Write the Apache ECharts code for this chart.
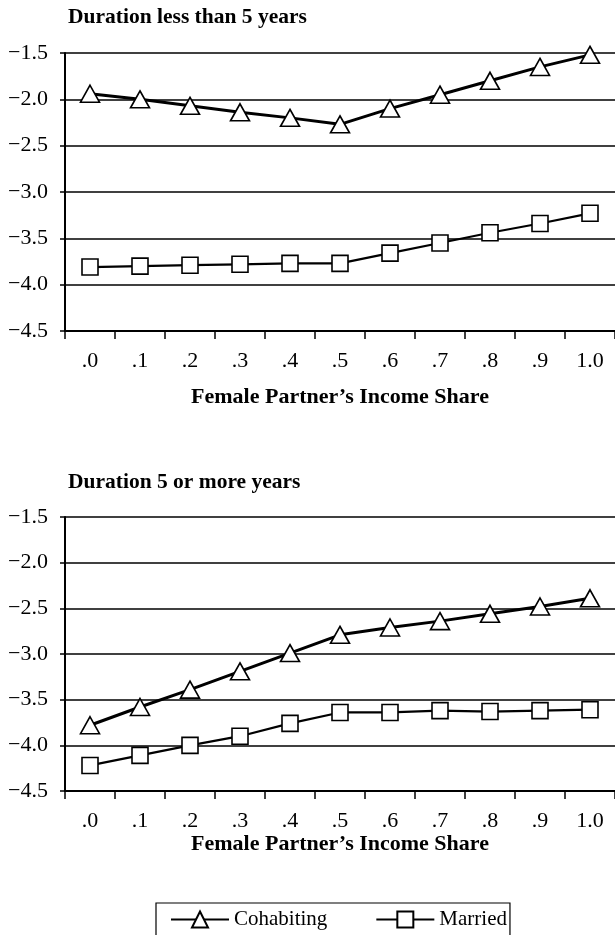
<!DOCTYPE html>
<html>
<head>
<meta charset="utf-8">
<script src="https://cdn.jsdelivr.net/npm/echarts@6/dist/echarts.min.js"></script>
<style>
html, body { margin: 0; padding: 0; background: #fff; }
#chart { width: 615px; height: 935px; }
</style>
</head>
<body>
<div id="chart"></div>
<script>
var shares = ['.0', '.1', '.2', '.3', '.4', '.5', '.6', '.7', '.8', '.9', '1.0'];
var shortCohab = [-1.94, -2.00, -2.07, -2.14, -2.20, -2.27, -2.10, -1.95, -1.80, -1.65, -1.52];
var shortMarried = [-3.81, -3.80, -3.79, -3.78, -3.77, -3.77, -3.66, -3.55, -3.44, -3.34, -3.23];
var longCohab = [-3.78, -3.58, -3.39, -3.19, -2.99, -2.79, -2.71, -2.64, -2.56, -2.48, -2.39];
var longMarried = [-4.22, -4.11, -4.00, -3.90, -3.76, -3.64, -3.64, -3.62, -3.63, -3.62, -3.61];

var font = '"Liberation Serif", "DejaVu Serif", serif';
var myChart = echarts.init(document.getElementById('chart'));

function yAxisFor(idx) {
    return {
        type: 'value',
        gridIndex: idx,
        min: -4.5,
        max: -1.5,
        interval: 0.5,
        axisLine: { show: true, lineStyle: { color: '#000', width: 2 } },
        axisTick: { show: true, length: 5, lineStyle: { color: '#000', width: 1.5 } },
        splitLine: { show: true, lineStyle: { color: '#000', width: 1.5 } },
        axisLabel: {
            color: '#000', fontFamily: font, fontSize: 22, margin: 17,
            formatter: function (v) { return '\u2212' + Math.abs(v).toFixed(1); }
        }
    };
}

function xAxisFor(idx, gap) {
    return {
        type: 'category',
        gridIndex: idx,
        data: shares,
        boundaryGap: true,
        axisLine: { show: true, lineStyle: { color: '#000', width: 2 } },
        axisTick: { show: true, length: 8, interval: 0, lineStyle: { color: '#000', width: 1.5 } },
        axisLabel: { color: '#000', fontFamily: font, fontSize: 22, margin: 19, interval: 0 },
        name: 'Female Partner\u2019s Income Share',
        nameLocation: 'middle',
        nameGap: gap,
        nameTextStyle: { color: '#000', fontFamily: font, fontSize: 22, fontWeight: 'bold' }
    };
}

function cohab(idx, data) {
    return {
        name: 'Cohabiting', type: 'line', xAxisIndex: idx, yAxisIndex: idx,
        data: data, symbol: 'triangle', symbolSize: [19, 17], z: 3,
        lineStyle: { color: '#000', width: 3 },
        itemStyle: { color: '#fff', borderColor: '#000', borderWidth: 1.6 }
    };
}

function married(idx, data) {
    return {
        name: 'Married', type: 'line', xAxisIndex: idx, yAxisIndex: idx,
        data: data, symbol: 'rect', symbolSize: 16, z: 3,
        lineStyle: { color: '#000', width: 2.2 },
        itemStyle: { color: '#fff', borderColor: '#000', borderWidth: 1.6 }
    };
}

var option = {
    backgroundColor: '#fff',
    animation: false,
    title: [
        { text: 'Duration less than 5 years', left: 63, top: 1,
          textStyle: { color: '#000', fontFamily: font, fontSize: 21.5, fontWeight: 'bold' } },
        { text: 'Duration 5 or more years', left: 63, top: 466,
          textStyle: { color: '#000', fontFamily: font, fontSize: 21.5, fontWeight: 'bold' } }
    ],
    grid: [
        { left: 65, top: 53, width: 553, height: 278 },
        { left: 65, top: 517, width: 553, height: 274 }
    ],
    xAxis: [xAxisFor(0, 55), xAxisFor(1, 41)],
    yAxis: [yAxisFor(0), yAxisFor(1)],
    legend: {
        data: ['Cohabiting', 'Married'],
        left: 156, top: 903,
        itemWidth: 58, itemHeight: 20, itemGap: 48,
        padding: [6, 3, 8, 14],
        borderColor: '#000', borderWidth: 1.2,
        textStyle: { color: '#000', fontFamily: font, fontSize: 21 }
    },
    series: [
        cohab(0, shortCohab), married(0, shortMarried),
        cohab(1, longCohab), married(1, longMarried)
    ]
};
myChart.setOption(option);
</script>
</body>
</html>
